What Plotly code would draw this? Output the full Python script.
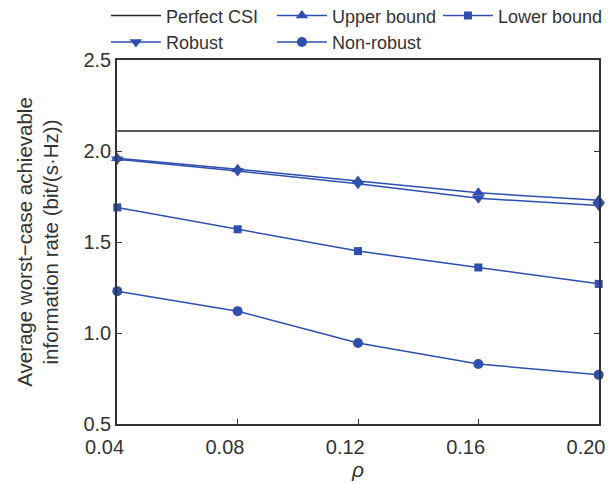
import plotly.graph_objects as go

rho = [0.04, 0.08, 0.12, 0.16, 0.20]
x_ticktext = ["0.04", "0.08", "0.12", "0.16", "0.20"]
perfect_csi = [2.11, 2.11, 2.11, 2.11, 2.11]
upper_bound = [1.96, 1.90, 1.835, 1.77, 1.73]
robust = [1.955, 1.89, 1.82, 1.74, 1.70]
lower_bound = [1.69, 1.57, 1.45, 1.36, 1.27]
non_robust = [1.23, 1.12, 0.945, 0.83, 0.77]
y_tickvals = [0.5, 1.0, 1.5, 2.0, 2.5]
y_ticktext = ["0.5", "1.0", "1.5", "2.0", "2.5"]

blue = "#2f4fae"
fig = go.Figure()
fig.add_trace(go.Scatter(x=rho, y=perfect_csi, mode="lines", name="Perfect CSI",
                         line=dict(color="#222222", width=1.5), cliponaxis=False))
fig.add_trace(go.Scatter(x=rho, y=upper_bound, mode="lines+markers", name="Upper bound", cliponaxis=False,
                         line=dict(color=blue, width=1.5), marker=dict(symbol="triangle-up", size=11, color=blue)))
fig.add_trace(go.Scatter(x=rho, y=lower_bound, mode="lines+markers", name="Lower bound", cliponaxis=False,
                         line=dict(color=blue, width=1.5), marker=dict(symbol="square", size=8, color=blue)))
fig.add_trace(go.Scatter(x=rho, y=robust, mode="lines+markers", name="Robust", cliponaxis=False,
                         line=dict(color=blue, width=1.5), marker=dict(symbol="triangle-down", size=11, color=blue)))
fig.add_trace(go.Scatter(x=rho, y=non_robust, mode="lines+markers", name="Non-robust", cliponaxis=False,
                         line=dict(color=blue, width=1.5), marker=dict(symbol="circle", size=10, color=blue)))

fig.update_layout(
    width=609, height=484,
    margin=dict(l=117, r=10, t=60, b=60, autoexpand=False),
    paper_bgcolor="white", plot_bgcolor="white",
    font=dict(family="Liberation Sans, Arial, sans-serif", size=20, color="#333333"),
    showlegend=True,
    legend=dict(orientation="h", xref="paper", yref="paper", x=-0.023, y=1.172,
                xanchor="left", yanchor="top",
                entrywidth=101, entrywidthmode="pixels", font=dict(size=18, color="#333333"),
                tracegroupgap=0, itemwidth=50, bgcolor="rgba(0,0,0,0)"),
    xaxis=dict(range=[0.0399, 0.2001], tickvals=rho, ticktext=x_ticktext, automargin=False,
               ticks="inside", ticklen=5, tickcolor="#333", showline=True, linecolor="#333",
               linewidth=1.5, mirror=True, showgrid=False, zeroline=False,
               tickfont=dict(size=20), ticklabelposition="outside left", ticklabelshift=8,
               ticklabelstandoff=4,
               title=dict(text="<i>ρ</i>", standoff=4, font=dict(size=21))),
    yaxis=dict(range=[0.5, 2.5], tickvals=y_tickvals, ticktext=y_ticktext, automargin=False,
               ticks="inside", ticklen=5, tickcolor="#333", showline=True, linecolor="#333",
               linewidth=1.5, mirror="ticks", showgrid=False, zeroline=False,
               tickfont=dict(size=20),
               title=dict(text="Average worst−case achievable<br>information rate (bit/(s·Hz))",
                          standoff=19, font=dict(size=20.5))),
)
fig.write_html("out.html", config={"displayModeBar": False},
               post_script="document.body.style.margin='0';document.body.style.overflow='hidden';")
